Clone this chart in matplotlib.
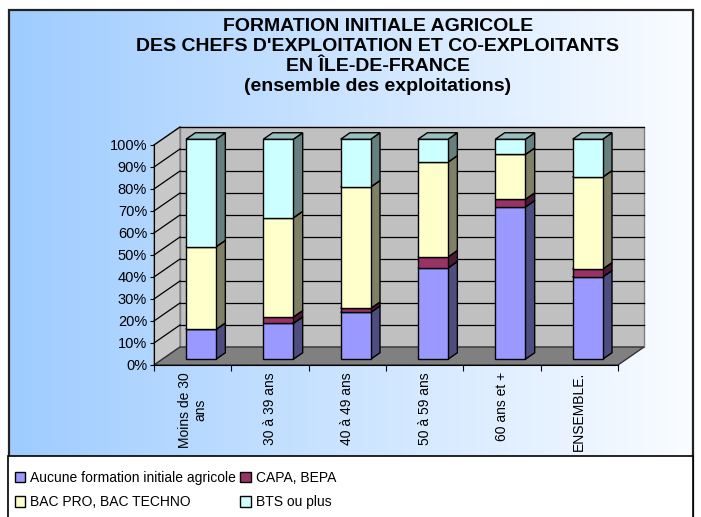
import matplotlib
matplotlib.use("Agg")
import matplotlib.pyplot as plt
import numpy as np
from matplotlib.patches import Polygon, Rectangle, Patch

plt.rcParams['font.family'] = ['Liberation Sans', 'DejaVu Sans']

# data (percent of each age class)
categories = ["Moins de 30\nans", "30 à 39 ans", "40 à 49 ans", "50 à 59 ans", "60 ans et +", "ENSEMBLE."]
series_names = ["Aucune formation initiale agricole", "CAPA, BEPA", "BAC PRO, BAC TECHNO", "BTS ou plus"]
aucune = [13.6, 16.3, 21.3, 41.5, 69.2, 37.4]
capa = [0.0, 2.9, 1.8, 5.0, 3.5, 3.6]
bac = [37.5, 45.1, 55.2, 43.1, 20.4, 41.8]
bts = [48.9, 35.7, 21.7, 10.4, 6.9, 17.2]
yticks = list(range(0, 101, 10))

front_cols = ["#9999ff", "#993366", "#ffffcc", "#ccffff"]
side_cols = ["#4d4d80", "#4d1a33", "#808066", "#668080"]
top_cols = ["#7373bf", "#73264d", "#bfbf99", "#99bfbf"]

W, H = 701, 517
fig = plt.figure(figsize=(W / 100, H / 100), dpi=100)


def fx(px):
    return px / W


def fy(py):
    return 1 - py / H


# chart area background: horizontal gradient light blue -> white
bg = fig.add_axes([fx(9), 0, fx(693) - fx(9), fy(10)])
grad = np.linspace(0, 1, 256)
c0 = np.array([0.62, 0.80, 1.0])
c1 = np.array([0.98, 0.99, 1.0])
img = c0[None, :] * (1 - grad[:, None]) + c1[None, :] * grad[:, None]
bg.imshow(img[None, :, :], aspect='auto', extent=[0, 1, 0, 1])
bg.set_axis_off()
fig.add_artist(Rectangle((fx(9), fy(530)), fx(693) - fx(9), fy(10) - fy(530),
                         transform=fig.transFigure, fill=False, edgecolor='#222222', lw=1.6))

# main 3D-like axes (front plane)
ax = fig.add_axes([fx(154), fy(365), fx(618) - fx(154), fy(145) - fy(365)])
ax.set_xlim(0, 6)
ax.set_ylim(0, 100)
ax.patch.set_alpha(0)
DX = 26 / (464 / 6)   # depth offset, category units
DY = 18 / 2.2         # depth offset, percent units

# walls and floor
ax.add_patch(Polygon([(DX, DY), (6 + DX, DY), (6 + DX, 100 + DY), (DX, 100 + DY)],
                     closed=True, fc="#c0c0c0", ec="#808080", lw=1, clip_on=False, zorder=1))
ax.add_patch(Polygon([(0, 0), (DX, DY), (DX, 100 + DY), (0, 100)],
                     closed=True, fc="#c8c8c8", ec="#808080", lw=1, clip_on=False, zorder=1))
ax.add_patch(Polygon([(0, 0), (6, 0), (6 + DX, DY), (DX, DY)],
                     closed=True, fc="#808080", ec="#333333", lw=1, clip_on=False, zorder=1))
for v in yticks:
    if v == 0:
        continue
    ax.plot([DX, 6 + DX], [v + DY, v + DY], color='black', lw=0.9, clip_on=False, zorder=2)
    ax.plot([0, DX], [v, v + DY], color='black', lw=0.9, clip_on=False, zorder=2)

# stacked 3D bars
series = [aucune, capa, bac, bts]
bw = 30 / (464 / 6)
f0, f1 = 0.32, 0.68
bottoms = np.zeros(len(categories))
for s, vals in enumerate(series):
    for i, v in enumerate(vals):
        b = bottoms[i]
        t = b + v
        x0 = i + 0.5 - bw / 2 + f0 * DX
        x1 = x0 + bw
        y0 = b + f0 * DY
        y1 = t + f0 * DY
        ddx = (f1 - f0) * DX
        ddy = (f1 - f0) * DY
        z = 5 + s
        ax.add_patch(Polygon([(x1, y0), (x1 + ddx, y0 + ddy), (x1 + ddx, y1 + ddy), (x1, y1)],
                             closed=True, fc=side_cols[s], ec='black', lw=1, zorder=z, clip_on=False))
        ax.add_patch(Rectangle((x0, y0), bw, v, fc=front_cols[s], ec='black', lw=1, zorder=z, clip_on=False))
        ax.add_patch(Polygon([(x0, y1), (x1, y1), (x1 + ddx, y1 + ddy), (x0 + ddx, y1 + ddy)],
                             closed=True, fc=top_cols[s], ec='black', lw=1, zorder=z, clip_on=False))
    bottoms += np.array(vals)

# axes, ticks, labels
for sp in ['top', 'right']:
    ax.spines[sp].set_visible(False)
ax.spines['left'].set_zorder(3)
ax.spines['bottom'].set_zorder(3)
ax.set_yticks(yticks)
ax.set_yticklabels([f"{v}%" for v in yticks], fontsize=10.5)
ax.tick_params(axis='y', length=3, pad=2)
ax.set_xticks(range(7))
ax.set_xticklabels([])
ax.tick_params(axis='x', which='major', length=4, direction='out')
ax.set_xticks(np.arange(6) + 0.5, minor=True)
ax.set_xticklabels(categories, minor=True, rotation=90, fontsize=10, ha='center', va='top',
                   multialignment='center')
ax.tick_params(axis='x', which='minor', length=0, pad=5)

# title
fig.text(fx(378), fy(18), "FORMATION INITIALE AGRICOLE\nDES CHEFS D'EXPLOITATION ET CO-EXPLOITANTS\n"
         "EN ÎLE-DE-FRANCE\n(ensemble des exploitations)",
         ha='center', va='top', fontsize=14, fontweight='bold', linespacing=1.22)

# legend box
fig.add_artist(Rectangle((fx(8), fy(530)), fx(693) - fx(8), fy(456) - fy(530),
                         transform=fig.transFigure, fc='white', ec='black', lw=1.2))
handles = [Patch(fc=c, ec='black', lw=1) for c in front_cols]
order = [0, 2, 1, 3]
fig.legend([handles[k] for k in order], [series_names[k] for k in order],
           loc='upper left', bbox_to_anchor=(fx(15), fy(471)), ncol=2, frameon=False,
           fontsize=10, handlelength=0.75, handleheight=0.75, handletextpad=0.35,
           columnspacing=0.3, borderpad=0, borderaxespad=0, labelspacing=0.75)

fig.savefig("out.png", dpi=100)
